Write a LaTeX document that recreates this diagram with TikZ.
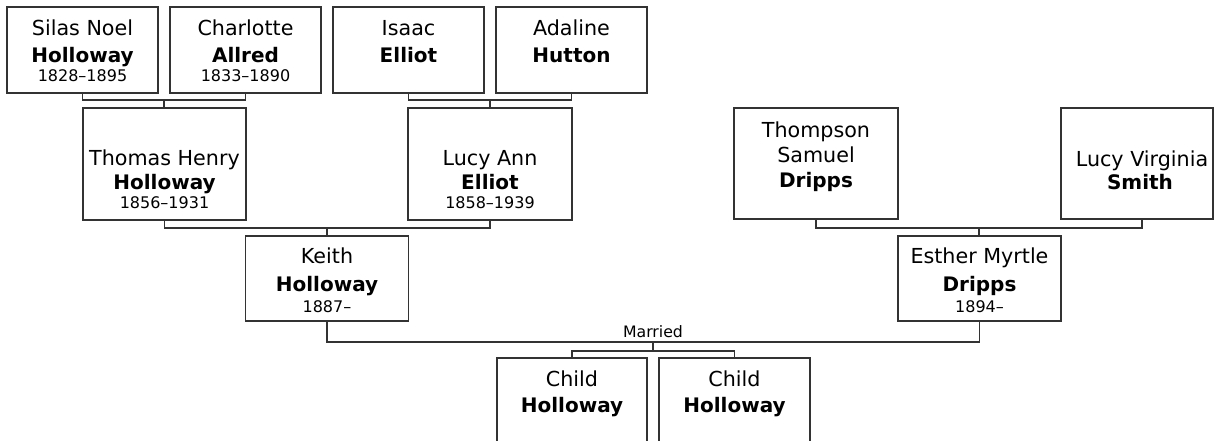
\documentclass[tikz,border=0pt]{standalone}
\usepackage{fontspec}
\setmainfont{DejaVu Sans}
\definecolor{treeInk}{HTML}{000000}
\definecolor{treeLine}{HTML}{333333}
\tikzset{
  every picture/.style={text=treeInk},
  person/.style={draw=treeLine, line width=1.2pt, fill=white, inner sep=0pt},
  given/.style={anchor=base, inner sep=0pt, font=\fontsize{15.5}{18}\selectfont},
  surname/.style={anchor=base, inner sep=0pt, font=\fontsize{15}{18}\selectfont\bfseries},
  years/.style={anchor=base, inner sep=0pt, font=\fontsize{12}{14}\selectfont},
  link/.style={draw=treeLine, line width=1.2pt}
}

\begin{document}
\begin{tikzpicture}[x=0.75pt,y=-0.75pt]
  \useasboundingbox (0,0) rectangle (1217,441);
  \clip (0,0) rectangle (1217,441);
  \fill[white] (0,0) rectangle (1217,441);
  % great-grandparents
  \node[person, minimum width=113.25pt, minimum height=64.5pt] (silas) at (82.5,50) {};
  \node[person, minimum width=113.25pt, minimum height=64.5pt] (charlotte) at (245.5,50) {};
  \node[person, minimum width=113.25pt, minimum height=64.5pt] (isaac) at (408.5,50) {};
  \node[person, minimum width=113.25pt, minimum height=64.5pt] (adaline) at (571.5,50) {};
  % grandparents
  \node[person, minimum width=122.25pt, minimum height=84pt] (thomas) at (164.5,164) {};
  \node[person, minimum width=123pt, minimum height=84pt] (lucyann) at (490,164) {};
  \node[person, minimum width=123pt, minimum height=83.25pt] (thompson) at (816,163.5) {};
  \node[person, minimum width=114pt, minimum height=83.25pt] (lucyv) at (1137,163.5) {};
  % parents
  \node[person, minimum width=122.25pt, minimum height=63.75pt] (keith) at (327,278.5) {};
  \node[person, minimum width=122.25pt, minimum height=63.75pt] (esther) at (979.5,278.5) {};
  % children
  \node[person, minimum width=112.5pt, minimum height=63.75pt] (child1) at (572,400.5) {};
  \node[person, minimum width=113.25pt, minimum height=63.75pt] (child2) at (734.5,400.5) {};

  % names
  \node[given] (silas-g) at (82.5,36) {Silas Noel};
  \node[surname] (silas-s) at (82.5,63) {Holloway};
  \node[years] (silas-y) at (82.5,82) {1828–1895};
  \node[given] (charlotte-g) at (245.5,36) {Charlotte};
  \node[surname] (charlotte-s) at (245.5,63) {Allred};
  \node[years] (charlotte-y) at (245.5,82) {1833–1890};
  \node[given] (isaac-g) at (408.5,36) {Isaac};
  \node[surname] (isaac-s) at (408.5,63) {Elliot};
  \node[given] (adaline-g) at (571.5,36) {Adaline};
  \node[surname] (adaline-s) at (571.5,63) {Hutton};
  \node[given] (thomas-g) at (164.5,166) {Thomas Henry};
  \node[surname] (thomas-s) at (164.5,190) {Holloway};
  \node[years] (thomas-y) at (164.5,209) {1856–1931};
  \node[given] (lucyann-g) at (490,166) {Lucy Ann};
  \node[surname] (lucyann-s) at (490,190) {Elliot};
  \node[years] (lucyann-y) at (490,209) {1858–1939};
  \node[given] (thompson-g) at (816,138) {Thompson};
  \node[given] (thompson-m) at (816,163) {Samuel};
  \node[surname] (thompson-s) at (816,188) {Dripps};
  \node[given] (lucyv-g) at (1142,167) {Lucy Virginia};
  \node[surname] (lucyv-s) at (1140,190) {Smith};
  \node[given] (keith-g) at (327,264) {Keith};
  \node[surname] (keith-s) at (327,291.5) {Holloway};
  \node[years] (keith-y) at (327,312.5) {1887–};
  \node[given] (esther-g) at (979.5,264) {Esther Myrtle};
  \node[surname] (esther-s) at (979.5,291.5) {Dripps};
  \node[years] (esther-y) at (979.5,312.5) {1894–};
  \node[given] (child1-g) at (572,387) {Child};
  \node[surname] (child1-s) at (572,412) {Holloway};
  \node[given] (child2-g) at (734.5,387) {Child};
  \node[surname] (child2-s) at (734.5,412) {Holloway};

  % couples and descent
  \coordinate (join-sc) at (164,100);
  \coordinate (join-ia) at (490,100);
  \coordinate (join-tl) at (327,228);
  \coordinate (join-tv) at (979,228);
  \coordinate (wed) at (653,342);
  \coordinate (kids) at (653,351);
  \draw[link] (silas.south) |- (join-sc) -| (charlotte.south);
  \draw[link] (join-sc) -- (join-sc |- thomas.north);
  \draw[link] (isaac.south) |- (join-ia) -| (adaline.south);
  \draw[link] (join-ia) -- (lucyann.north);
  \draw[link] (thomas.south) |- (join-tl) -| (lucyann.south);
  \draw[link] (join-tl) -- (keith.north);
  \draw[link] (thompson.south) |- (join-tv) -| ([xshift=3.75pt]lucyv.south);
  \draw[link] (join-tv) -- (join-tv |- esther.north);
  \draw[link] (keith.south) |- (wed) -| (esther.south);
  \node[years, font=\fontsize{11.8}{14}\selectfont] (married) at (653,338) {Married};
  \draw[link] (wed) -- (kids);
  \draw[link] (child1.north) |- (kids) -| (child2.north);
\end{tikzpicture}
\end{document}
